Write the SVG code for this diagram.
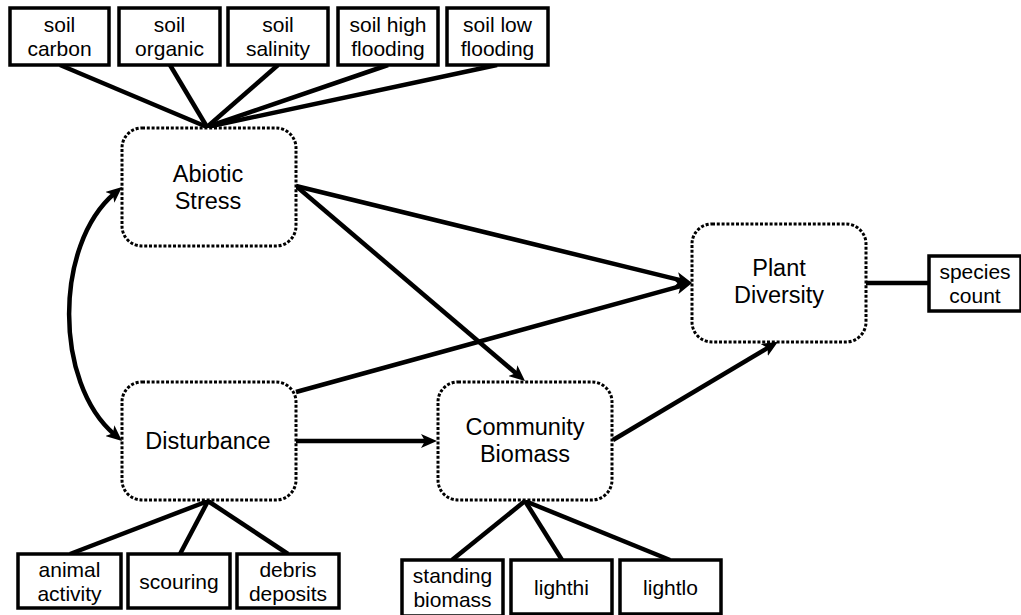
<svg xmlns="http://www.w3.org/2000/svg" width="1021" height="615" viewBox="0 0 1021 615">
<style>
.node{fill:#fff;stroke:#000;stroke-width:3;stroke-dasharray:3 1.8}
.box{fill:#fff;stroke:#000;stroke-width:3.5}
.nl{font-family:"Liberation Sans",Arial,sans-serif;font-size:23.5px;text-anchor:middle;fill:#000}
.bl{font-family:"Liberation Sans",Arial,sans-serif;font-size:21px;text-anchor:middle;fill:#000}
.e{fill:none;stroke:#000;stroke-width:4.5}
.a{fill:none;stroke:#000;stroke-width:4.5;marker-end:url(#ah)}
</style>
<defs>
<marker id="ah" viewBox="0 0 16 14" refX="6" refY="7" markerWidth="16" markerHeight="14" markerUnits="userSpaceOnUse" orient="auto-start-reverse">
<path d="M0,0 L16,7 L0,14 L4,7 Z" fill="#000"/>
</marker>
</defs>
<rect width="1021" height="615" fill="#fff"/>
<g id="connectors">
<line class="e" x1="207" y1="127" x2="60" y2="65"/>
<line class="e" x1="207" y1="127" x2="170" y2="65"/>
<line class="e" x1="207" y1="127" x2="278" y2="65"/>
<line class="e" x1="207" y1="127" x2="388" y2="65"/>
<line class="e" x1="207" y1="127" x2="497" y2="65"/>
<line class="e" x1="208" y1="501" x2="70" y2="554"/>
<line class="e" x1="208" y1="501" x2="180" y2="554"/>
<line class="e" x1="208" y1="501" x2="288" y2="554"/>
<line class="e" x1="525" y1="501" x2="452" y2="560"/>
<line class="e" x1="525" y1="501" x2="562" y2="560"/>
<line class="e" x1="525" y1="501" x2="670" y2="560"/>
<line class="e" x1="866" y1="283" x2="929" y2="283"/>
<line class="a" x1="296" y1="186" x2="682.3" y2="280.6"/>
<line class="a" x1="296" y1="392" x2="682.4" y2="285.7"/>
<line class="a" x1="296" y1="186" x2="517.4" y2="374.5"/>
<line class="a" x1="296" y1="441" x2="427" y2="441"/>
<line class="a" x1="613" y1="440" x2="769.4" y2="346.9"/>
<path class="a" style="marker-start:url(#ah)" d="M114.4,193.5 C54,245 54,383 114.4,434.5"/>
</g>
<g id="abiotic"><rect class="node" x="122" y="128" width="174" height="118" rx="20"/><text class="nl" x="208" y="181.5">Abiotic</text><text class="nl" x="208" y="208.5">Stress</text></g>
<g id="disturbance"><rect class="node" x="122" y="382" width="174" height="118" rx="20"/><text class="nl" x="208" y="449">Disturbance</text></g>
<g id="biomass"><rect class="node" x="438" y="382" width="174" height="118" rx="20"/><text class="nl" x="525" y="434.5">Community</text><text class="nl" x="525" y="461.5">Biomass</text></g>
<g id="diversity"><rect class="node" x="692" y="224" width="174" height="118" rx="20"/><text class="nl" x="779" y="276">Plant</text><text class="nl" x="779" y="303">Diversity</text></g>
<g id="soil-carbon"><rect class="box" x="10" y="8" width="99" height="57"/><text class="bl" x="59.5" y="32">soil</text><text class="bl" x="59.5" y="56">carbon</text></g>
<g id="soil-organic"><rect class="box" x="119" y="8" width="101" height="57"/><text class="bl" x="169.5" y="32">soil</text><text class="bl" x="169.5" y="56">organic</text></g>
<g id="soil-salinity"><rect class="box" x="228" y="8" width="100" height="57"/><text class="bl" x="278" y="32">soil</text><text class="bl" x="278" y="56">salinity</text></g>
<g id="soil-high-flooding"><rect class="box" x="338" y="8" width="100" height="57"/><text class="bl" x="388" y="32">soil high</text><text class="bl" x="388" y="56">flooding</text></g>
<g id="soil-low-flooding"><rect class="box" x="447" y="8" width="101" height="57"/><text class="bl" x="497.5" y="32">soil low</text><text class="bl" x="497.5" y="56">flooding</text></g>
<g id="species-count"><rect class="box" x="929" y="256" width="92" height="55"/><text class="bl" x="975" y="278.5">species</text><text class="bl" x="975" y="302.5">count</text></g>
<g id="animal-activity"><rect class="box" x="18" y="554" width="103" height="54"/><text class="bl" x="69.5" y="576.5">animal</text><text class="bl" x="69.5" y="600.5">activity</text></g>
<g id="scouring"><rect class="box" x="128" y="554" width="102" height="54"/><text class="bl" x="179" y="588.5">scouring</text></g>
<g id="debris-deposits"><rect class="box" x="237" y="554" width="102" height="54"/><text class="bl" x="288" y="576.5">debris</text><text class="bl" x="288" y="600.5">deposits</text></g>
<g id="standing-biomass"><rect class="box" x="402" y="560" width="101" height="56"/><text class="bl" x="452.5" y="583">standing</text><text class="bl" x="452.5" y="607">biomass</text></g>
<g id="lighthi"><rect class="box" x="511" y="560" width="101" height="54"/><text class="bl" x="561.5" y="594.5">lighthi</text></g>
<g id="lightlo"><rect class="box" x="620" y="560" width="101" height="54"/><text class="bl" x="670.5" y="594.5">lightlo</text></g>
</svg>
